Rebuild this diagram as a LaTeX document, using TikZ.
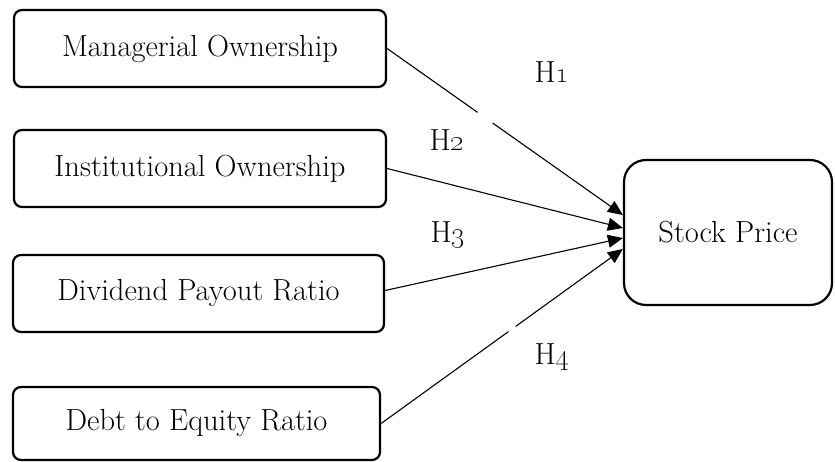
\documentclass[tikz,border=0pt]{standalone}
\usetikzlibrary{arrows.meta}
\begin{document}
\begin{tikzpicture}[x=1pt,y=1pt,
  box/.style={draw=black, line width=2.2pt, rounded corners=8pt, align=center,
    inner sep=0pt, font=\fontsize{30.5}{34}\selectfont},
  link/.style={draw=black, line width=1.1pt, -{Triangle[length=15pt,width=13pt]}},
  hlabel/.style={font=\fontsize{30.5}{34}\selectfont, inner sep=0pt},
  gap/.style={draw=white, line width=3.5pt}]
\useasboundingbox (0,0) rectangle (835,461);
% left boxes (y = 461 - pixel row)
\node[box, minimum width=372pt, minimum height=77pt] (b1) at (200,412.5) {Managerial Ownership};
\node[box, minimum width=372pt, minimum height=77pt] (b2) at (200,292.5) {Institutional Ownership};
\node[box, minimum width=371pt, minimum height=77pt] (b3) at (198.5,167.5) {Dividend Payout Ratio};
\node[box, minimum width=367pt, minimum height=73pt] (b4) at (196.5,37.5) {Debt to Equity Ratio};
% target box
\node[box, rounded corners=22pt, minimum width=208pt, minimum height=145pt] (s) at (728,228.5) {Stock Price};
% arrow end points on the target border
\coordinate (t1) at ([yshift=17.5pt]s.west);
\coordinate (t2) at ([yshift=4.5pt]s.west);
\coordinate (t3) at ([yshift=-5.5pt]s.west);
\coordinate (t4) at ([yshift=-16.5pt]s.west);
\coordinate (o3) at ([yshift=3pt]b3.east);
% connectors
\draw[link] (b1.east) -- (t1);
\draw[link] (b2.east) -- (t2);
\draw[link] (o3) -- (t3);
\draw[link] (b4.east) -- (t4);
% small breaks in two connectors
\path (b1.east) -- (t1) coordinate[pos=0.384] (g1a) coordinate[pos=0.447] (g1b);
\draw[gap] (g1a) -- (g1b);
\path (b4.east) -- (t4) coordinate[pos=0.527] (g4a) coordinate[pos=0.556] (g4b);
\draw[gap] (g4a) -- (g4b);
% labels
\node[hlabel] (h1) at (552,389) {H\oldstylenums{1}};
\node[hlabel] (h2) at (447,321) {H\oldstylenums{2}};
\node[hlabel] (h3) at (448,226) {H\oldstylenums{3}};
\node[hlabel] (h4) at (552,104) {H\oldstylenums{4}};
\end{tikzpicture}
\end{document}
